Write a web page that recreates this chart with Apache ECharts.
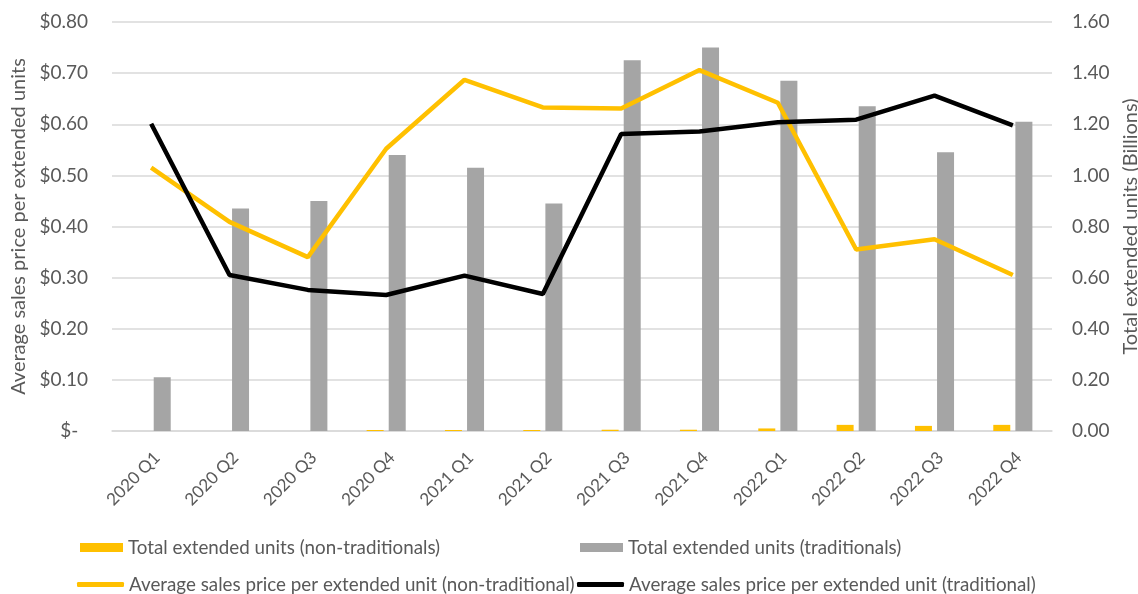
<!DOCTYPE html>
<html>
<head>
<meta charset="utf-8">
<script src="https://cdn.jsdelivr.net/npm/echarts@6/dist/echarts.min.js"></script>
<style>
  html, body { margin: 0; padding: 0; background: #ffffff; }
  #chart { width: 1138px; height: 594px; }
</style>
</head>
<body>
<div id="chart"></div>
<script>
// Quarterly periods on the category axis
const quarters = ['2020 Q1', '2020 Q2', '2020 Q3', '2020 Q4',
                  '2021 Q1', '2021 Q2', '2021 Q3', '2021 Q4',
                  '2022 Q1', '2022 Q2', '2022 Q3', '2022 Q4'];

// Total extended units, billions (right axis)
const unitsNonTraditional = [0, 0, 0, 0.004, 0.004, 0.004, 0.005, 0.005, 0.010, 0.024, 0.020, 0.024];
const unitsTraditional    = [0.21, 0.87, 0.90, 1.08, 1.03, 0.89, 1.45, 1.50, 1.37, 1.27, 1.09, 1.21];

// Average sales price per extended unit, USD (left axis)
const priceNonTraditional = [0.515, 0.409, 0.340, 0.552, 0.687, 0.633, 0.631, 0.706, 0.642, 0.355, 0.375, 0.305];
const priceTraditional    = [0.601, 0.305, 0.276, 0.266, 0.304, 0.268, 0.581, 0.586, 0.604, 0.609, 0.656, 0.598];

// Series names shown in the legend
const names = {
  unitsNon: 'Total extended units (non-traditionals)',
  unitsTrad: 'Total extended units (traditionals)',
  priceNon: 'Average sales price per extended unit (non-traditional)',
  priceTrad: 'Average sales price per extended unit (traditional)'
};

const FONT = 'Lato, "Liberation Sans", sans-serif';
const TEXT = '#595959';
const GRID_LINE = '#d9d9d9';
const GOLD = '#ffc000';
const GREY = '#a5a5a5';

const chart = echarts.init(document.getElementById('chart'), null, { renderer: 'canvas' });

const legendText = { color: TEXT, fontSize: 18.8, fontFamily: FONT };

// Bar keys are flat rectangles; line keys are thick rounded strokes
function barKey(name, left, top) {
  return { data: [name], left: left, top: top, padding: 0, icon: 'rect',
           itemWidth: 43, itemHeight: 9, textStyle: legendText, selectedMode: false };
}
function lineKey(name, left, top) {
  return { data: [name], left: left, top: top, padding: 0, icon: 'roundRect',
           itemWidth: 47, itemHeight: 5, textStyle: legendText, selectedMode: false };
}

chart.setOption({
  backgroundColor: '#ffffff',
  animation: false,
  textStyle: { fontFamily: FONT },
  grid: { left: 112, right: 86, top: 22, bottom: 163, containLabel: false, outerBoundsMode: 'none' },
  legend: [
    barKey(names.unitsNon, 80, 538),
    barKey(names.unitsTrad, 580, 538),
    lineKey(names.priceNon, 77, 575),
    lineKey(names.priceTrad, 577, 575)
  ],
  xAxis: {
    type: 'category',
    data: quarters,
    boundaryGap: true,
    axisLine: { show: true, lineStyle: { color: GRID_LINE, width: 1.5 } },
    axisTick: { show: false },
    splitLine: { show: false },
    axisLabel: {
      rotate: 45, color: TEXT, fontSize: 17, fontFamily: FONT, margin: 18, interval: 0,
      verticalAlign: 'top'
    }
  },
  yAxis: [
    {
      type: 'value', position: 'left', min: 0, max: 0.8, interval: 0.1,
      name: 'Average sales price per extended units',
      nameLocation: 'middle', nameGap: 79, nameRotate: 90,
      nameTextStyle: { color: TEXT, fontSize: 20, fontFamily: FONT },
      axisLine: { show: false }, axisTick: { show: false },
      splitLine: { show: true, lineStyle: { color: GRID_LINE, width: 1.5 } },
      axisLabel: {
        color: TEXT, fontSize: 19, fontFamily: FONT, margin: 24,
        formatter: v => (Math.abs(v) < 1e-9 ? '$-  ' : '$' + v.toFixed(2))
      }
    },
    {
      type: 'value', position: 'right', min: 0, max: 1.6, interval: 0.2,
      name: 'Total extended units (Billions)',
      nameLocation: 'middle', nameGap: 66, nameRotate: 90,
      nameTextStyle: { color: TEXT, fontSize: 20, fontFamily: FONT },
      axisLine: { show: false }, axisTick: { show: false },
      splitLine: { show: false },
      axisLabel: {
        color: TEXT, fontSize: 19, fontFamily: FONT, margin: 20,
        formatter: v => v.toFixed(2)
      }
    }
  ],
  series: [
    {
      name: names.unitsNon, type: 'bar', yAxisIndex: 1, data: unitsNonTraditional,
      barWidth: 17, barGap: '30%', itemStyle: { color: GOLD }, z: 2
    },
    {
      name: names.unitsTrad, type: 'bar', yAxisIndex: 1, data: unitsTraditional,
      barWidth: 17, barGap: '30%', itemStyle: { color: GREY }, z: 2
    },
    {
      name: names.priceNon, type: 'line', yAxisIndex: 0, data: priceNonTraditional,
      symbol: 'none', lineStyle: { color: GOLD, width: 4.5 }, itemStyle: { color: GOLD }, z: 3
    },
    {
      name: names.priceTrad, type: 'line', yAxisIndex: 0, data: priceTraditional,
      symbol: 'none', lineStyle: { color: '#000000', width: 4.5 }, itemStyle: { color: '#000000' }, z: 4
    }
  ]
});
</script>
</body>
</html>
